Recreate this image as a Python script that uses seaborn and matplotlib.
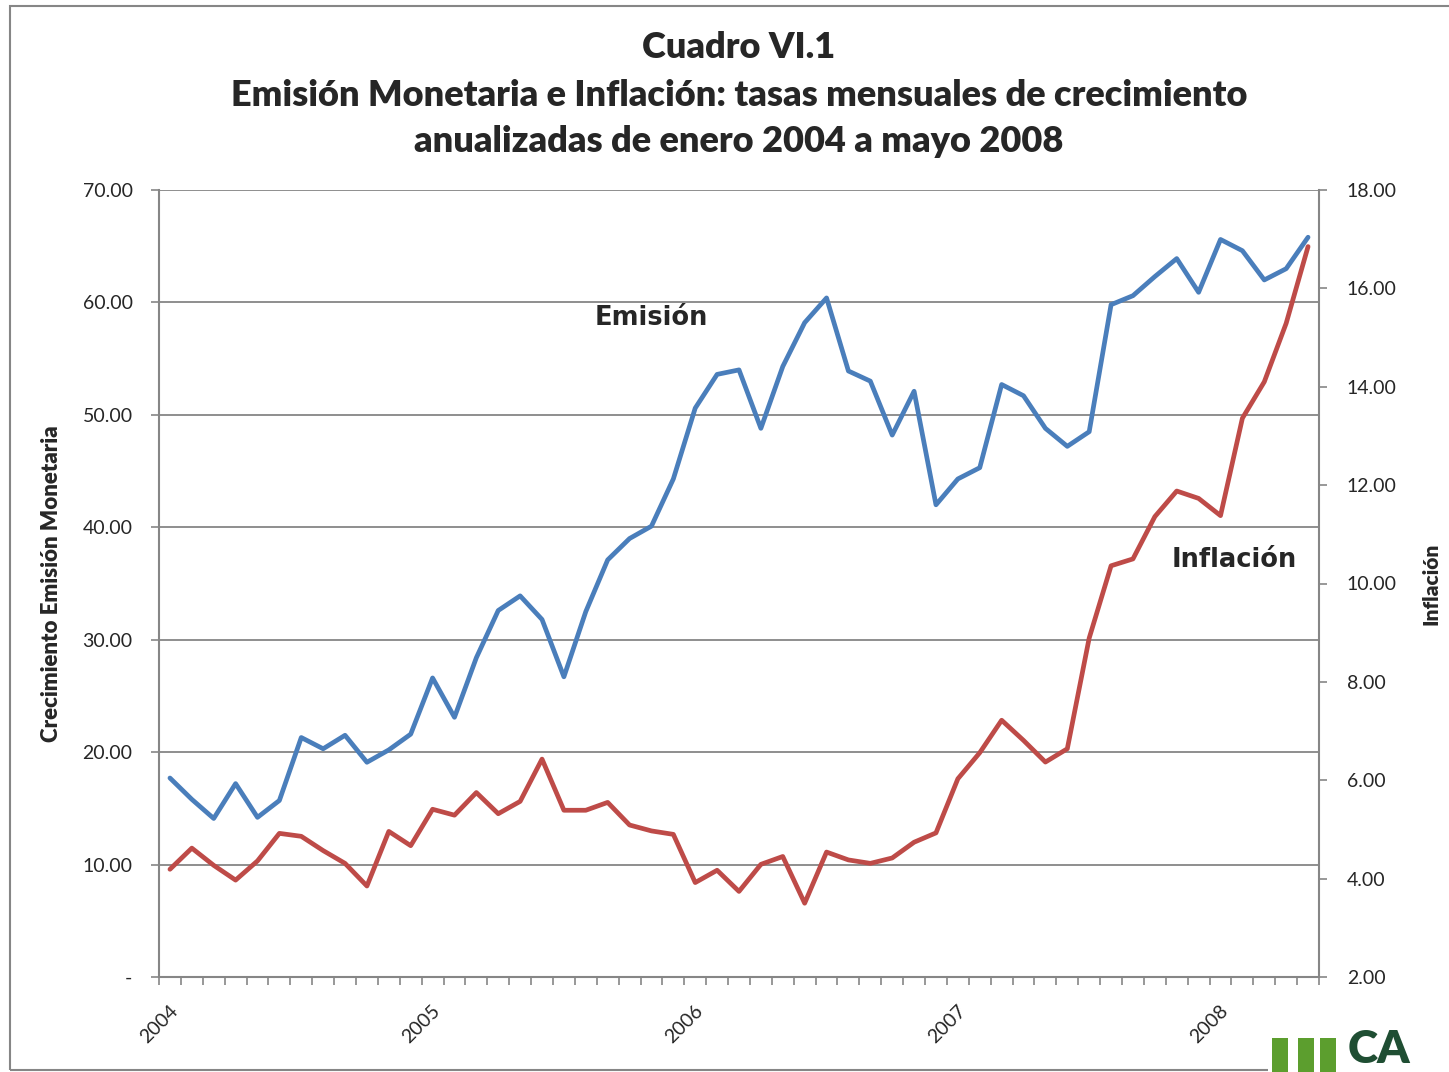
import numpy as np
import pandas as pd
import matplotlib
matplotlib.use("Agg")
import matplotlib.pyplot as plt
from matplotlib.patches import Rectangle
import seaborn as sns

# monthly data, enero 2004 - mayo 2008
meses = pd.date_range("2004-01-01", periods=53, freq="MS")
emision = [17.7, 15.8, 14.1, 17.2, 14.2, 15.7, 21.3, 20.3, 21.5, 19.1,
           20.2, 21.6, 26.6, 23.1, 28.4, 32.6, 33.9, 31.8, 26.7, 32.5,
           37.1, 39.0, 40.1, 44.3, 50.6, 53.6, 54.0, 48.8, 54.3, 58.2,
           60.4, 53.9, 53.0, 48.2, 52.1, 42.0, 44.3, 45.3, 52.7, 51.7,
           48.8, 47.2, 48.5, 59.8, 60.6, 62.3, 63.9, 60.9, 65.6, 64.6,
           62.0, 63.0, 65.8]
inflacion = [4.19, 4.62, 4.27, 3.97, 4.36, 4.92, 4.86, 4.57, 4.31, 3.85,
             4.96, 4.67, 5.41, 5.29, 5.75, 5.32, 5.57, 6.43, 5.39, 5.39,
             5.55, 5.09, 4.97, 4.90, 3.92, 4.17, 3.74, 4.29, 4.45, 3.50,
             4.54, 4.38, 4.31, 4.42, 4.74, 4.93, 6.03, 6.56, 7.22, 6.81,
             6.37, 6.64, 8.89, 10.36, 10.50, 11.36, 11.88, 11.73, 11.38, 13.36,
             14.10, 15.29, 16.85]
anios = ["2004", "2005", "2006", "2007", "2008"]
left_ticks = [0, 10, 20, 30, 40, 50, 60, 70]
right_ticks = [2, 4, 6, 8, 10, 12, 14, 16, 18]

df = pd.DataFrame({"mes": meses, "emision": emision, "inflacion": inflacion})
df["pos"] = np.arange(len(df))

sns.set_theme(style="white")
plt.rcParams["font.family"] = ["Lato", "DejaVu Sans"]

W, H = 1449, 1072
fig = plt.figure(figsize=(W / 100, H / 100), dpi=100)
ax = fig.add_axes([159 / W, 1 - 977 / H, 1160 / W, 787 / H])
ax2 = ax.twinx()

grey = "#868686"
blue = "#4a7ebb"
red = "#be4b48"

sns.lineplot(data=df, x="pos", y="emision", ax=ax, color=blue, lw=3.4)
sns.lineplot(data=df, x="pos", y="inflacion", ax=ax2, color=red, lw=3.4)

n = len(df)
ax.set_xlim(-0.5, n - 0.5)
ax.set_ylim(0, 70)
ax2.set_ylim(2, 18)

# left axis
ax.set_yticks(left_ticks)
ax.set_yticklabels(["-" if v == 0 else f"{v:.2f}" for v in left_ticks], fontsize=14)
ax.yaxis.grid(True, color=grey, lw=1.3)
ax.set_axisbelow(True)

# right axis
ax2.set_yticks(right_ticks)
ax2.set_yticklabels([f"{v:.2f}" for v in right_ticks], fontsize=14)

# x axis: ticks between months, year labels at january
xt = np.arange(-0.5, n, 1.0)
ax.set_xticks(xt)
labs = [""] * len(xt)
for k, a in enumerate(anios):
    labs[12 * k] = a
ax.set_xticklabels(labs, rotation=45, ha="center", fontsize=14)

for a in (ax, ax2):
    for s in a.spines.values():
        s.set_visible(False)
ax.spines["left"].set_visible(True)
ax.spines["bottom"].set_visible(True)
ax2.spines["right"].set_visible(True)
for s in (ax.spines["left"], ax.spines["bottom"], ax2.spines["right"]):
    s.set_color(grey)
    s.set_linewidth(1.5)

ax.tick_params(axis="x", direction="out", length=6, width=1.2, color=grey, pad=12, bottom=True)
ax.tick_params(axis="y", direction="out", length=6, width=1.2, color=grey, pad=13, left=True)
ax2.tick_params(axis="y", direction="out", length=6, width=1.2, color=grey, pad=14, right=True)

ax.set_xlabel("")
ax.set_ylabel("Crecimiento Emisión Monetaria", fontsize=16, fontweight="heavy")
ax.yaxis.set_label_coords(-0.084, 0.5)
ax2.set_ylabel("Inflación", fontsize=15, fontweight="heavy", rotation=90)
ax2.yaxis.set_label_coords(1.088, 0.5)

# series labels
ax.text(22.0, 58.6, "Emisión", family="DejaVu Sans", fontweight="bold",
        fontsize=18.5, ha="center", va="center")
ax2.text(48.65, 10.48, "Inflación", family="DejaVu Sans", fontweight="bold",
         fontsize=18.5, ha="center", va="center")

# title
for ty, line in [(48, "Cuadro VI.1"),
                 (95, "Emisión Monetaria e Inflación: tasas mensuales de crecimiento"),
                 (141, "anualizadas de enero 2004 a mayo 2008")]:
    fig.text(739 / W, 1 - ty / H, line, ha="center", va="center",
             fontsize=26, fontweight="heavy")

# chart frame
fig.patches.append(Rectangle((10 / W, 1 - 1070 / H), 1.2, 1064 / H,
                             transform=fig.transFigure, fill=False,
                             edgecolor=grey, lw=1.5))

# partial logo at bottom right
fig.patches.append(Rectangle((1268 / W, 0), 0.2, 44 / H, transform=fig.transFigure,
                             facecolor="white", edgecolor="none", zorder=5))
for x0 in (1272, 1298, 1320):
    fig.patches.append(Rectangle((x0 / W, 0), 16 / W, 34 / H, transform=fig.transFigure,
                                 facecolor="#5c9e2e", edgecolor="none", zorder=6))
fig.text(1348 / W, 2 / H, "CA", fontsize=33, fontweight="heavy",
         color="#1f4e33", ha="left", va="bottom", zorder=7)

fig.savefig("out.png", dpi=100)
